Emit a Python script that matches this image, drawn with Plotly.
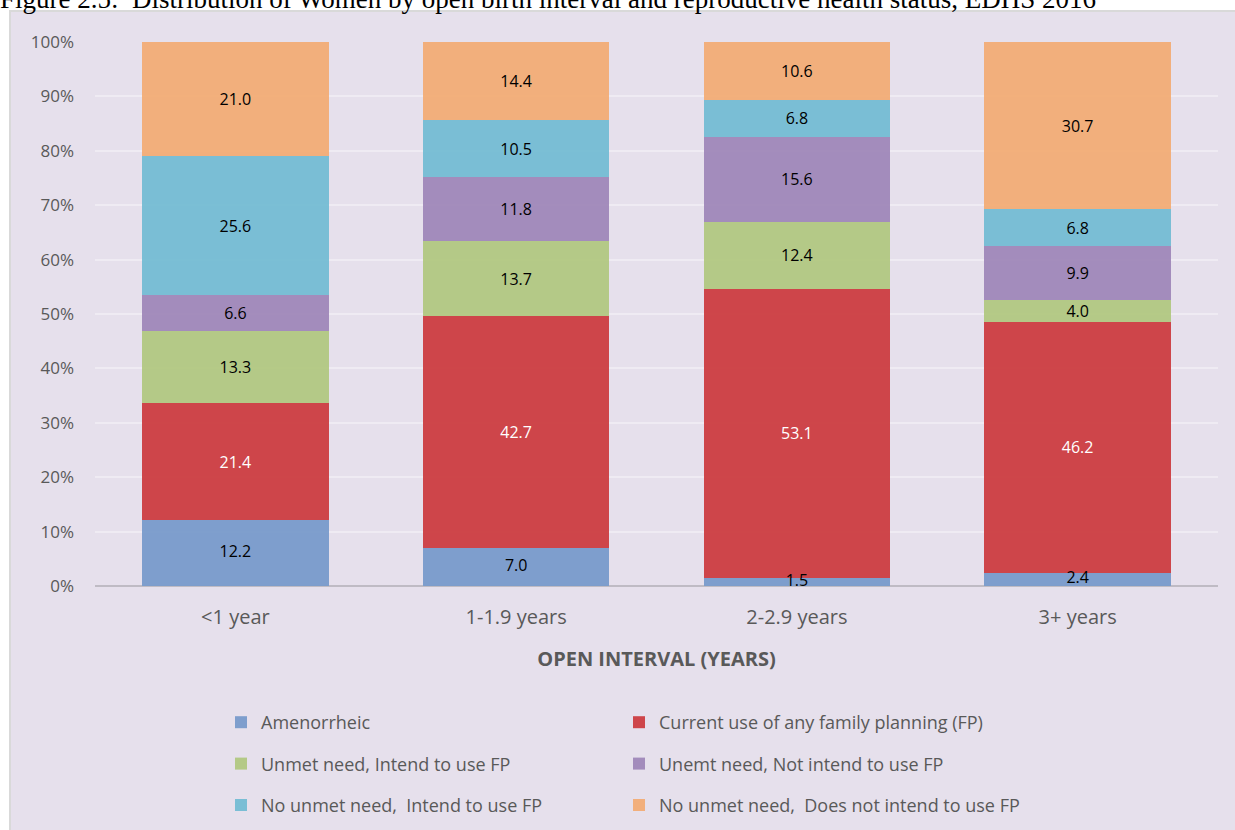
import plotly.graph_objects as go

# Open birth interval groups
categories = ["<1 year", "1-1.9 years", "2-2.9 years", "3+ years"]

# Reproductive health status shares (%) per interval group
amenorrheic = [12.2, 7.0, 1.5, 2.4]
current_fp = [21.4, 42.7, 53.1, 46.2]
unmet_intend = [13.3, 13.7, 12.4, 4.0]
unmet_not_intend = [6.6, 11.8, 15.6, 9.9]
no_unmet_intend = [25.6, 10.5, 6.8, 6.8]
no_unmet_not_intend = [21.0, 14.4, 10.6, 30.7]

series_names = [
    "Amenorrheic",
    "Current use of any family planning (FP)",
    "Unmet need, Intend to use FP",
    "Unemt need, Not intend to use FP",
    "No unmet need,  Intend to use FP",
    "No unmet need,  Does not intend to use FP",
]
series_values = [amenorrheic, current_fp, unmet_intend, unmet_not_intend,
                 no_unmet_intend, no_unmet_not_intend]
series_colors = ["rgba(122,155,203,0.96)", "rgba(204,64,68,0.97)",
                 "rgba(178,200,130,0.96)", "rgba(160,136,185,0.96)",
                 "rgba(118,188,211,0.96)", "rgba(243,173,119,0.96)"]
label_colors = ["#000000", "#FFFFFF", "#000000", "#000000", "#000000", "#000000"]
# two legend columns, filled left then right row by row
legend_ids = ["legend", "legend2", "legend", "legend2", "legend", "legend2"]

W, H = 1235, 830
ML, MR, MT, MB = 95, 17, 42, 244
PW, PH = W - ML - MR, H - MT - MB


def px_x(p):
    return (p - ML) / PW


def px_y(p):
    return (H - MB - p) / PH


BG = "#E6E0EC"
GREY = "#595959"
FONT = "Open Sans"

# column totals, used to place the bottom-segment labels on the 100% scale
totals = [sum(col) for col in zip(*series_values)]

fig = go.Figure()
for i, (name, vals, col, tcol, lg) in enumerate(zip(
        series_names, series_values, series_colors, label_colors, legend_ids)):
    labels = [f"{v:.1f}" for v in vals]
    fig.add_trace(go.Bar(
        x=categories, y=vals, name=name,
        marker=dict(color=col, line=dict(width=0)),
        text=labels if i > 0 else None,
        texttemplate="%{text}" if i > 0 else None,
        textposition="inside" if i > 0 else "none",
        insidetextanchor="middle", textangle=0,
        insidetextfont=dict(family=FONT, size=16, color=tcol),
        legend=lg, legendgroup=f"g{i}",
    ))

# bottom segment labels drawn above the bars so thin segments stay readable
fig.add_trace(go.Scatter(
    x=categories,
    y=[v / 2 * 100 / t for v, t in zip(amenorrheic, totals)],
    mode="text", text=[f"{v:.1f}" for v in amenorrheic],
    textposition="middle center",
    textfont=dict(family=FONT, size=16, color="#000000"),
    showlegend=False, hoverinfo="skip",
))

legend_common = dict(
    orientation="v", xanchor="left", yanchor="top", traceorder="grouped",
    tracegroupgap=15, y=px_y(704),
    bgcolor="rgba(0,0,0,0)", borderwidth=0,
    font=dict(family=FONT, size=18, color=GREY),
    itemclick=False, itemdoubleclick=False,
)

fig.update_layout(
    width=W, height=H,
    margin=dict(l=ML, r=MR, t=MT, b=MB, pad=0, autoexpand=False),
    paper_bgcolor="white", plot_bgcolor=BG,
    barmode="stack", barnorm="percent", bargap=0.335,
    uniformtext=dict(minsize=16, mode="show"),
    font=dict(family=FONT, color=GREY),
    xaxis=dict(
        type="category", showgrid=False, showline=False, ticks="",
        tickfont=dict(family=FONT, size=20, color=GREY),
        ticklabelstandoff=17,
        title=dict(text="<b>OPEN INTERVAL (YEARS)</b>",
                   font=dict(family=FONT, size=20, color=GREY), standoff=22),
    ),
    yaxis=dict(
        range=[0, 100], dtick=10, ticksuffix="%",
        showgrid=True, gridcolor="#EFEBF3", gridwidth=1.5,
        zeroline=True, zerolinecolor="#BFBBC4", zerolinewidth=1.5,
        showline=False, ticks="",
        tickfont=dict(family=FONT, size=17, color=GREY),
        ticklabelstandoff=20,
    ),
    legend=dict(legend_common, x=px_x(221)),
    legend2=dict(legend_common, x=px_x(619)),
    shapes=[dict(
        type="rect", xref="paper", yref="paper", layer="below",
        x0=px_x(10), x1=px_x(1240), y0=px_y(840), y1=px_y(11),
        fillcolor=BG, line=dict(color="#D9D9D9", width=2),
    )],
    annotations=[dict(
        text="Figure 2.5:  Distribution of Women by open birth interval and "
             "reproductive health status, EDHS 2016",
        xref="paper", yref="paper", x=px_x(-2), y=px_y(16),
        xanchor="left", yanchor="bottom", showarrow=False,
        font=dict(family="Liberation Serif", size=27, color="#000000"),
    )],
)

fig.write_html("out.html")
